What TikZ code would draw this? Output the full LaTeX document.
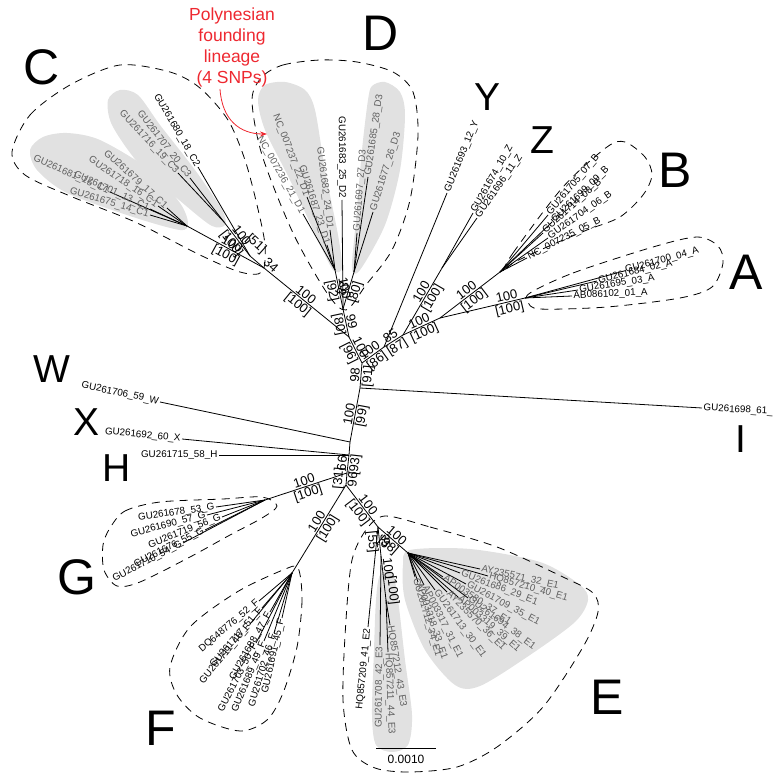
\documentclass[tikz,border=0pt]{standalone}
\usepackage{fontspec}
\setmainfont{Liberation Sans}
\usepackage{tikz}
\usetikzlibrary{arrows.meta}
\definecolor{polyred}{RGB}{238,40,48}
\definecolor{blobgray}{RGB}{225,225,225}
\definecolor{labgray}{RGB}{95,95,95}
\tikzset{
  branch/.style={line width=0.8pt},
  leaf/.style={font=\fontsize{9.8}{10}\selectfont, inner sep=1.2pt},
  leafg/.style={leaf, text=labgray},
  sup/.style={font=\fontsize{13}{13}\selectfont, inner sep=1pt},
  clade/.style={line width=0.8pt, dash pattern=on 8pt off 6pt},
  blob/.style={fill=blobgray, draw=none},
  bigl/.style={font=\fontsize{50}{50}\selectfont, inner sep=0pt},
  smalll/.style={font=\fontsize{39}{39}\selectfont, inner sep=0pt},
}
% leaf whose label reads away from the parent
\newcommand{\leafout}[5][leaf]{%
  \coordinate (#3) at (#4);
  \draw[branch] (#2) -- (#3) node[#1, pos=1, sloped, anchor=west] (#3-t) {#5};}
% leaf whose label reads towards the parent
\newcommand{\leafin}[5][leaf]{%
  \coordinate (#3) at (#4);
  \draw[branch] (#3) -- (#2) node[#1, pos=0, sloped, anchor=east] (#3-t) {#5};}
% inner branch with its two supports
\newcommand{\stem}[5]{%
  \draw[branch] (#1) -- (#2) node[sup, pos=#5, sloped, above] (#2-a) {#3}
                             node[sup, pos=#5, sloped, below] (#2-b) {#4};}

\begin{document}
\begin{tikzpicture}[x=1pt, y=-1pt]
\useasboundingbox (0,0) rectangle (776,775);

% grey sub-clades
\fill[blob] plot[smooth cycle] coordinates {(108,100) (120,90) (138,95) (160,125) (195,170) (222,210) (225,225) (212,226) (185,205) (140,165) (112,125)};
\fill[blob] plot[smooth cycle] coordinates {(30,150) (43,137) (67,133) (100,140) (150,170) (180,203) (188,223) (180,230) (133,217) (67,193) (37,170)};
\fill[blob] plot[smooth cycle] coordinates {(258,100) (265,85) (285,82) (305,90) (315,110) (325,170) (338,235) (342,268) (333,270) (318,240) (290,180) (265,130)};
\fill[blob] plot[smooth cycle] coordinates {(368,100) (372,86) (385,82) (400,92) (405,115) (400,170) (385,225) (360,270) (352,268) (356,220) (362,150)};
\fill[blob] plot[smooth cycle] coordinates {(410,550) (470,549) (540,562) (580,585) (588,600) (575,622) (530,655) (480,686) (455,685) (425,650) (405,600) (403,565)};
\fill[blob] plot[smooth cycle] coordinates {(380,575) (392,572) (398,600) (405,660) (412,715) (408,745) (392,752) (376,745) (372,715) (374,650) (376,600)};

% clade outlines
\draw[clade] plot[smooth cycle] coordinates {(12,152) (30,115) (70,85) (120,65) (170,72) (200,88) (228,120) (245,160) (257,205) (265,245) (262,272) (240,272) (200,255) (135,222) (70,196) (25,175)};
\draw[clade] plot[smooth cycle] coordinates {(262,77) (283,65) (320,60) (357,62) (393,72) (413,92) (418,135) (410,200) (392,250) (366,285) (346,310) (327,293) (293,233) (262,155) (252,100)};
\draw[clade] plot[smooth cycle] coordinates {(503,272) (513,253) (563,187) (607,147) (625,142) (645,157) (652,175) (643,195) (620,217) (587,230) (547,247) (513,263)};
\draw[clade] plot[smooth cycle] coordinates {(530,293) (573,273) (653,247) (697,237) (718,246) (723,263) (712,287) (680,298) (607,307) (540,309) (528,302)};
\draw[clade] plot[smooth cycle] coordinates {(110,528) (125,511) (160,502) (223,499) (262,497) (277,506) (262,518) (230,535) (190,557) (140,582) (117,586) (104,570) (103,545)};
\draw[clade] plot[smooth cycle] coordinates {(298,568) (302,600) (297,647) (283,693) (267,720) (240,731) (200,718) (177,695) (170,667) (190,627) (237,592) (283,570)};
\draw[clade] plot[smooth cycle] coordinates {(385,516) (430,527) (497,547) (563,577) (593,593) (598,612) (583,647) (543,707) (497,747) (457,767) (410,772) (375,768) (352,750) (343,700) (346,620) (352,560) (366,530)};

% inner nodes
\coordinate (n1) at (362,363);
\coordinate (ni) at (360,388);
\coordinate (nw) at (350,442);
\coordinate (nxh) at (349,455);
\coordinate (ng) at (347,473);
\coordinate (nfe) at (346,485);
\coordinate (ne) at (378,527);
\coordinate (e1n) at (408,553);
\coordinate (e3n) at (381,556);
\coordinate (e3m) at (386,600);
\coordinate (gn) at (265,500);
\coordinate (fn) at (292,573);
\coordinate (n2) at (349,337);
\coordinate (dr) at (343,309);
\coordinate (d1n) at (335,270);
\coordinate (d3n) at (354,272);
\coordinate (cr) at (264,268);
\coordinate (c23) at (250,256);
\coordinate (c3n) at (224,222);
\coordinate (c1n) at (187,226);
\coordinate (j1) at (384,347);
\coordinate (j2) at (403,335);
\coordinate (zn) at (442,268);
\coordinate (nab) at (440,318);
\coordinate (bn) at (500,272);
\coordinate (an) at (525,298);

% backbone
\stem{n1}{ni}{98}{[91]}{0.5}
\stem{ni}{nw}{100}{[99]}{0.5}
\draw[branch] (nw) -- (nxh);
\stem{nxh}{ng}{66}{[93]}{0.5}
\stem{ng}{nfe}{[31]}{96}{0.5}
\stem{nfe}{ne}{100}{[100]}{0.55}
\stem{ne}{e3n}{35}{[55]}{0.5}
\draw[branch] (e3n) -- (e3m) node[sup, pos=0.3, sloped, above] (e3m-a) {100}
                             node[sup, pos=0.8, sloped, above] (e3m-b) {[100]};
\stem{ne}{e1n}{100}{[98]}{0.5}
\stem{ng}{gn}{100}{[100]}{0.5}
\stem{nfe}{fn}{100}{[100]}{0.45}
\stem{n1}{n2}{100}{[96]}{0.5}
\stem{n2}{dr}{99}{[80]}{0.5}
\stem{n2}{cr}{100}{[100]}{0.55}
\draw[branch] (cr) -- (c23);
\node[sup, rotate=-42] (c23-a) at (256,244) {[51]};
\node[sup, rotate=-42] (c23-b) at (271,265) {34};
\stem{c23}{c3n}{100}{[100]}{0.5}
\stem{cr}{c1n}{100}{[100]}{0.45}
\stem{dr}{d1n}{100}{[92]}{0.5}
\stem{dr}{d3n}{83}{[80]}{0.5}
\stem{n1}{j1}{100}{[86]}{0.5}
\stem{j1}{j2}{85}{[87]}{0.5}
\stem{j2}{nab}{100}{[100]}{0.5}
\stem{j2}{zn}{100}{[100]}{0.6}
\stem{nab}{bn}{100}{[100]}{0.5}
\stem{nab}{an}{100}{[100]}{0.8}

% leaves
\leafin{nw}{w59}{160,402}{GU261706\_59\_W}
\leafin{nxh}{x60}{182,439}{GU261692\_60\_X}
\leafin{nxh}{h58}{219,455}{GU261715\_58\_H}
\leafout{ni}{i61}{702,408}{GU261698\_61\_}
\leafout{j1}{y12}{447,193}{GU261693\_12\_Y}
\leafout{zn}{z10}{473,213}{GU261674\_10\_Z}
\leafout{zn}{z11}{477,218}{GU261696\_11\_Z}
\leafout{bn}{b07}{548,215}{GU261705\_07\_B}
\leafout{bn}{b09}{552,222}{GU261699\_09\_B}
\leafout{bn}{b08}{543,233}{GU261714\_08\_B}
\leafout{bn}{b06}{548,238}{GU261704\_06\_B}
\leafout{bn}{b05}{527,258}{NC\_007235\_05\_B}
\leafout{an}{a02}{597,281}{GU261684\_02\_A}
\leafout{an}{a04}{624,271}{GU261700\_04\_A}
\leafout{an}{a03}{578,290}{GU261695\_03\_A}
\leafout{an}{a01}{572,296}{AB086102\_01\_A}
\leafin{dr}{d25}{342,200}{GU261683\_25\_D2}
\leafin[leafg]{d1n}{d22}{307,197}{NC\_007237\_22\_D1}
\leafin[leafg]{d1n}{d21}{303,214}{NC\_007236\_21\_D1}
\leafin[leafg]{d1n}{d24}{330,230}{GU261682\_24\_D1}
\leafin[leafg]{d1n}{d23}{327,245}{GU261687\_23\_D1}
\leafout[leafg]{d3n}{d27}{357,233}{GU261697\_27\_D3}
\leafout[leafg]{d3n}{d28}{368,177}{GU261685\_28\_D3}
\leafout[leafg]{d3n}{d26}{373,212}{GU261677\_26\_D3}
\leafin{c23}{c18}{198,167}{GU261680\_18\_C2}
\leafin[leafg]{c3n}{c20}{190,178}{GU261707\_20\_C3}
\leafin[leafg]{c3n}{c19}{178,173}{GU261716\_19\_C3}
\leafin[leafg]{c1n}{c15}{110,192}{GU261681\_15\_C1}
\leafin[leafg]{c1n}{c14}{150,215}{GU261675\_14\_C1}
\leafin[leafg]{c1n}{c13}{150,209}{GU261701\_13\_C1}
\leafin[leafg]{c1n}{c16}{158,206}{GU261718\_16\_C1}
\leafin[leafg]{c1n}{c17}{167,208}{GU261679\_17\_C1}
\leafin{gn}{g53}{216,507}{GU261678\_53\_G}
\leafin{gn}{g57}{207,515}{GU261690\_57\_G}
\leafin{gn}{g56}{222,517}{GU261719\_56\_G}
\leafin{gn}{g55}{205,530}{GU261676\_55\_G}
\leafin{gn}{g54}{183,543}{GU261710\_54\_G}
\leafin{fn}{f52}{259,601}{DQ648776\_52\_F}
\leafin{fn}{f51}{262,608}{GU261717\_51\_F}
\leafin{fn}{f48}{250,624}{GU261711\_48\_F}
\leafin{fn}{f47}{270,612}{GU261688\_47\_F}
\leafin{fn}{f50}{256,643}{GU261703\_50\_F}
\leafin{fn}{f49}{264,641}{GU261689\_49\_F}
\leafin{fn}{f46}{274,633}{GU261702\_46\_F}
\leafin{fn}{f45}{282,618}{GU261691\_45\_F}
\leafin{ne}{e41}{368,627}{HQ857209\_41\_E2}
\leafin[leafg]{e3n}{e42}{380,645}{GU261708\_42\_E3}
\leafout[leafg]{e3m}{e43}{390,625}{HQ857212\_43\_E3}
\leafout[leafg]{e3m}{e44}{388,652}{HQ857211\_44\_E3}
\leafout[leafg]{e1n}{e32}{480,569}{AY235571\_32\_E1}
\leafout[leafg]{e1n}{e40}{488,576}{HQ857210\_40\_E1}
\leafout[leafg]{e1n}{e29}{460,573}{GU261686\_29\_E1}
\leafout[leafg]{e1n}{e37}{443,577}{AP003580\_37\_E1}
\leafout[leafg]{e1n}{e35}{466,584}{GU261709\_35\_E1}
\leafout[leafg]{e1n}{e38}{468,598}{GU261694\_38\_E1}
\leafout[leafg]{e1n}{e39}{458,597}{AP003319\_39\_E1}
\leafout[leafg]{e1n}{e36}{447,592}{AY235570\_36\_E1}
\leafout[leafg]{e1n}{e30}{435,590}{GU261713\_30\_E1}
\leafout[leafg]{e1n}{e31}{424,585}{AP003317\_31\_E1}
\leafout[leafg]{e1n}{e33}{418,582}{AP003318\_33\_E1}
\leafout[leafg]{e1n}{e34}{415,577}{GU261712\_34\_E1}

% scale bar
\coordinate (sb1) at (376,748);
\coordinate (sb2) at (436,748);
\draw[line width=1pt] (sb1) -- (sb2) node[midway, below=3pt, font=\fontsize{12}{12}\selectfont] (sbl) {0.0010};

% haplogroup letters
\node[bigl] (labC) at (42,67) {C};
\node[bigl] (labD) at (381,33) {D};
\node[smalll] (labY) at (487,97) {Y};
\node[smalll] (labZ) at (542,140) {Z};
\node[bigl] (labB) at (675,170) {B};
\node[bigl] (labA) at (746,272) {A};
\node[smalll] (labW) at (52,369) {W};
\node[smalll] (labX) at (87,422) {X};
\node[smalll] (labH) at (117,468) {H};
\node[smalll] (labI) at (741,439) {I};
\node[bigl] (labG) at (77,577) {G};
\node[bigl] (labF) at (161,728) {F};
\node[bigl] (labE) at (607,697) {E};

% founding lineage note
\node[text=polyred, align=center, font=\fontsize{17.5}{21}\selectfont] (poly) at (232,47) {Polynesian\\founding\\lineage\\(4 SNPs)};
\coordinate (arrS) at (220,89);
\coordinate (arrE) at (267,134);
\draw[polyred, line width=0.8pt, -{Stealth[length=7pt, width=5pt]}] (arrS) .. controls (222,120) and (240,134) .. (arrE);
\end{tikzpicture}
\end{document}
